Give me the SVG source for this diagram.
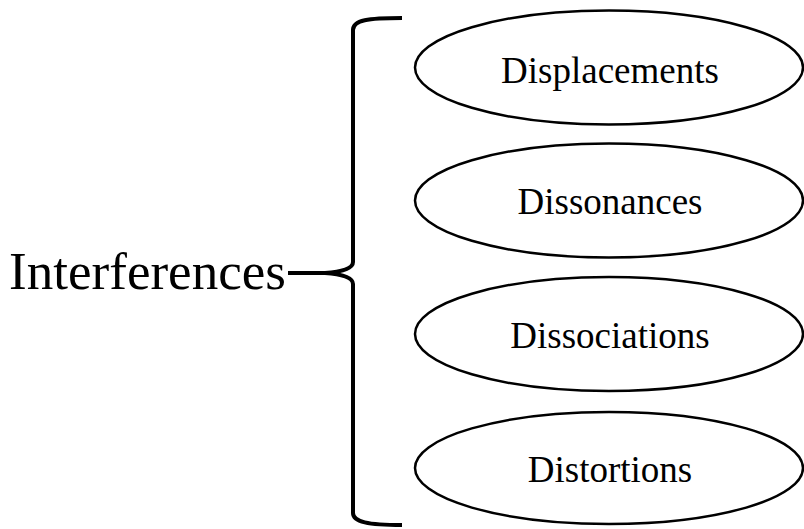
<svg xmlns="http://www.w3.org/2000/svg" width="804" height="529" viewBox="0 0 804 529">
<style>
.node ellipse{fill:#fff;stroke:#000;stroke-width:2.5}
.node text{font-family:"Liberation Serif","Times New Roman",serif;font-size:37px;fill:#000;text-anchor:middle}
.root text{font-family:"Liberation Serif","Times New Roman",serif;font-size:52px;fill:#000}
.conn path{fill:none;stroke:#000;stroke-width:4;stroke-linecap:butt}
</style>
<rect width="804" height="529" fill="#fff"/>
<g id="root" class="root"><text x="9" y="289" textLength="277" lengthAdjust="spacingAndGlyphs">Interferences</text></g>
<g id="connectors" class="conn">
<path d="M288 273 L325 273"/>
<path d="M402 18 C368 18 353 20 353 30 L353 262 Q353 271 325 273 Q353 275 353 284 L353 513 C353 522 368 525 402 525"/>
</g>
<g id="n1" class="node"><ellipse cx="609" cy="67.5" rx="194" ry="57"/><text x="610" y="83">Displacements</text></g>
<g id="n2" class="node"><ellipse cx="609" cy="200.5" rx="194" ry="57"/><text x="610" y="214">Dissonances</text></g>
<g id="n3" class="node"><ellipse cx="609" cy="334" rx="194" ry="57"/><text x="610" y="348">Dissociations</text></g>
<g id="n4" class="node"><ellipse cx="609" cy="468" rx="194" ry="56"/><text x="610" y="482">Distortions</text></g>
</svg>
